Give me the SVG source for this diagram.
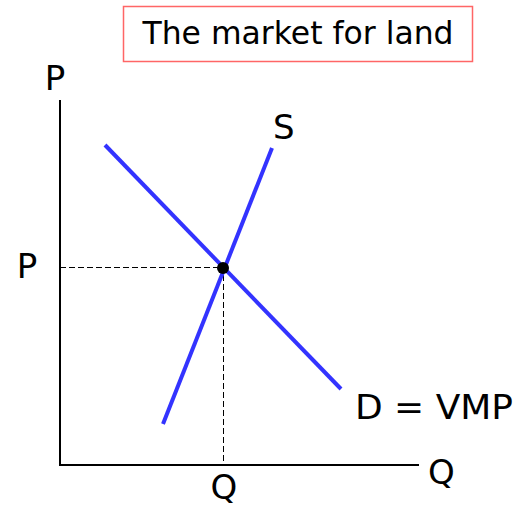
<svg xmlns="http://www.w3.org/2000/svg" width="522" height="508" viewBox="0 0 522 508">
<style>
.t{font-family:"DejaVu Sans","Liberation Sans",sans-serif;fill:#000;font-size:34px}
.curve{stroke:#3333ff;stroke-width:4;fill:none}
.axis{stroke:#000;stroke-width:2;fill:none}
.dash{stroke:#000;stroke-width:1;stroke-dasharray:6 3;fill:none}
</style>
<rect width="522" height="508" fill="#fff"/>
<g id="title">
<rect x="123.5" y="6.5" width="349" height="55" fill="none" stroke="#ff6666" stroke-width="1.5"/>
<text class="t" x="298" y="44" style="font-size:32px" text-anchor="middle" textLength="311" lengthAdjust="spacingAndGlyphs">The market for land</text>
</g>
<g id="connectors">
<path class="dash" d="M60 267.5H223.5V465"/>
<path class="axis" d="M60 100V465H419"/>
<path id="demand" class="curve" d="M105 145L341 389"/>
<path id="supply" class="curve" d="M163 424L272 148"/>
</g>
<g id="eq"><circle cx="223" cy="268" r="6" fill="#000"/></g>
<g id="labels">
<text class="t" x="55" y="90" text-anchor="middle">P</text>
<text class="t" x="27" y="278" text-anchor="middle">P</text>
<text class="t" x="224" y="499" text-anchor="middle">Q</text>
<text class="t" x="428" y="484">Q</text>
<text class="t" x="273" y="139">S</text>
<text class="t" x="355" y="419" textLength="158" lengthAdjust="spacingAndGlyphs">D = VMP</text>
</g>
</svg>
